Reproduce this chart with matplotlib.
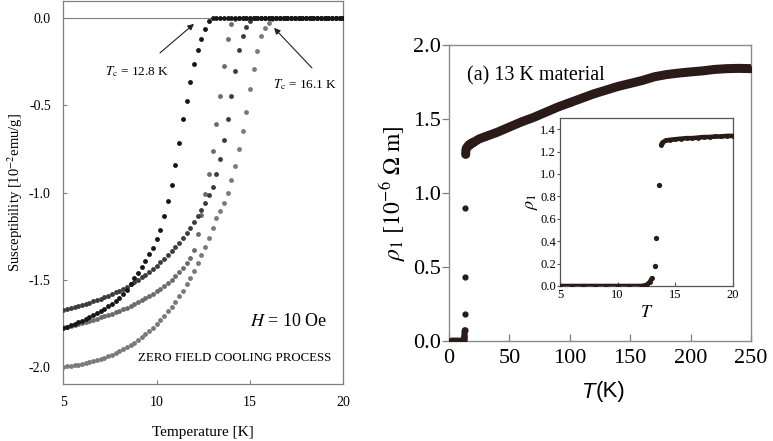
import numpy as np
import matplotlib
matplotlib.use("Agg")
import matplotlib.pyplot as plt

plt.rcParams['font.family'] = 'serif'
plt.rcParams['font.serif'] = ['Liberation Serif', 'DejaVu Serif']
plt.rcParams['mathtext.fontset'] = 'stix'

# ---------------- left panel data (susceptibility, 10^-2 emu/g) ----------------
temp_grid = np.round(np.arange(5.0, 20.001, 0.2), 1)

chi_s1 = [-1.773, -1.766, -1.758, -1.750, -1.741, -1.732, -1.722, -1.712, -1.701, -1.689,
          -1.677, -1.664, -1.650, -1.635, -1.618, -1.600, -1.580, -1.555, -1.522, -1.490,
          -1.459, -1.428, -1.392, -1.352, -1.315, -1.265, -1.215, -1.135, -1.050, -0.955,
          -0.840, -0.715, -0.580, -0.475, -0.365, -0.265, -0.185, -0.120, -0.065, -0.020,
          0, 0, 0, 0, 0, 0, 0, 0, 0, 0, 0, 0, 0, 0, 0, 0, 0, 0, 0, 0,
          0, 0, 0, 0, 0, 0, 0, 0, 0, 0, 0, 0, 0, 0, 0, 0]
chi_s2 = [-1.669, -1.664, -1.659, -1.654, -1.648, -1.642, -1.636, -1.629, -1.622, -1.614,
          -1.606, -1.598, -1.589, -1.580, -1.570, -1.560, -1.549, -1.537, -1.525, -1.512,
          -1.498, -1.484, -1.469, -1.453, -1.436, -1.418, -1.399, -1.379, -1.358, -1.336,
          -1.312, -1.287, -1.260, -1.232, -1.202, -1.170, -1.136, -1.100, -1.060, -1.015,
          -0.965, -0.895, -0.805, -0.700, -0.580, -0.445, -0.305, -0.185, -0.105, -0.050,
          -0.015, 0, 0, 0, 0, 0, 0, 0, 0, 0, 0, 0, 0, 0, 0, 0,
          0, 0, 0, 0, 0, 0, 0, 0, 0, 0]
chi_s3 = [-1.770, -1.766, -1.761, -1.756, -1.751, -1.745, -1.739, -1.733, -1.727, -1.721,
          -1.714, -1.707, -1.700, -1.692, -1.684, -1.676, -1.667, -1.658, -1.648, -1.638,
          -1.627, -1.616, -1.604, -1.591, -1.578, -1.564, -1.549, -1.533, -1.516, -1.498,
          -1.478, -1.456, -1.432, -1.405, -1.372, -1.330, -1.235, -1.125, -1.010, -0.895,
          -0.760, -0.605, -0.445, -0.275, -0.120, -0.035, -0.005,
          0, 0, 0, 0, 0, 0, 0, 0, 0, 0, 0, 0, 0, 0, 0, 0,
          0, 0, 0, 0, 0, 0, 0, 0, 0, 0, 0, 0, 0]
chi_s4 = [-1.996, -1.994, -1.991, -1.988, -1.984, -1.980, -1.975, -1.970, -1.965, -1.959,
          -1.952, -1.945, -1.937, -1.928, -1.918, -1.908, -1.897, -1.885, -1.872, -1.858,
          -1.843, -1.827, -1.810, -1.792, -1.772, -1.751, -1.729, -1.705, -1.680, -1.653,
          -1.624, -1.593, -1.560, -1.525, -1.487, -1.447, -1.404, -1.358, -1.309, -1.257,
          -1.202, -1.145, -1.105, -1.058, -1.000, -0.925, -0.845, -0.752, -0.645, -0.540,
          -0.405, -0.293, -0.190, -0.105, -0.057, -0.030, -0.005,
          0, 0, 0, 0, 0, 0, 0, 0, 0, 0, 0, 0, 0, 0, 0, 0, 0, 0, 0]
series_colors = ['#161616', '#3c3c3c', '#6c6c6c', '#7a7a7a']

# ---------------- right panel data (resistivity, 10^-6 Ohm m) ----------------
low_T = [2, 3, 4, 5, 6, 7, 8, 9, 10, 11, 12, 12.4, 12.6, 12.8, 13.0]
low_rho = [0, 0, 0, 0, 0, 0, 0, 0, 0, 0, 0, 0.005, 0.015, 0.035, 0.07]
jump_T = [13.24, 13.38, 13.6]
jump_rho = [0.18, 0.43, 0.90]
norm_T = [13.8, 13.9, 14.2, 14.6, 15, 15.5, 16, 16.5, 17, 17.5, 18, 18.5, 19, 19.5, 20,
          25, 30, 40, 50, 60, 70, 80, 90, 100, 110, 120, 130, 140, 150, 160, 170, 180,
          190, 200, 210, 220, 230, 240, 250]
norm_rho = [1.26, 1.28, 1.30, 1.305, 1.31, 1.315, 1.32, 1.32, 1.325, 1.33, 1.33, 1.335,
            1.335, 1.34, 1.34,
            1.365, 1.38, 1.41, 1.445, 1.48, 1.51, 1.545, 1.58, 1.61, 1.64, 1.67, 1.695,
            1.72, 1.74, 1.76, 1.785, 1.80, 1.81, 1.818, 1.825, 1.835, 1.84, 1.842, 1.84]
rho_color = '#2a1a18'

W, H = 773, 441
fig = plt.figure(figsize=(W / 100, H / 100), dpi=100)


def fx(px):
    return px / W


def fy(py):
    return 1 - py / H


# ================= left panel =================
axL = fig.add_axes([fx(63.3), fy(384), fx(343.3) - fx(63.3), fy(1) - fy(384)])
axL.axhline(0, color='#808080', lw=0.8, zorder=1)
for chi, col in zip([chi_s4, chi_s3, chi_s2, chi_s1], series_colors[::-1]):
    axL.plot(temp_grid, chi, 'o', color=col, ms=3.5, mec='none', zorder=3)
axL.set_xlim(5, 20)
axL.set_ylim(-2.095, 0.097)
axL.set_xticks([5, 10, 15, 20])
axL.set_yticks([0.0, -0.5, -1.0, -1.5, -2.0])
axL.set_yticklabels(['0.0', '-0.5', '-1.0', '-1.5', '-2.0'])
axL.tick_params(direction='in', length=3, width=0.8, color='#808080', labelsize=10,
                pad=9)
for s in axL.spines.values():
    s.set_color('#808080')
    s.set_linewidth(0.9)
axL.set_xlabel('Temperature [K]', fontsize=11, labelpad=12)
axL.set_ylabel('Susceptibility [10$^{-2}$emu/g]', fontsize=10.5, labelpad=3)

axL.annotate('', xy=(12.0, -0.034), xytext=(10.18, -0.20),
             arrowprops=dict(arrowstyle='-|>', color='#222222', lw=0.8,
                             mutation_scale=9, shrinkA=0, shrinkB=0))
axL.annotate('', xy=(16.29, -0.057), xytext=(18.32, -0.286),
             arrowprops=dict(arrowstyle='-|>', color='#222222', lw=0.8,
                             mutation_scale=9, shrinkA=0, shrinkB=0))
axL.text(7.23, -0.309, r'$T_{\rm c}$ = 12.8 K', fontsize=9.5, ha='left', va='center')
axL.text(16.22, -0.383, r'$T_{\rm c}$ = 16.1 K', fontsize=9.5, ha='left', va='center')
axL.text(15.0, -1.74, r'$H$ = 10 Oe', fontsize=13, ha='left', va='center')
axL.text(9.0, -1.946, 'ZERO FIELD COOLING PROCESS', fontsize=9.3, ha='left', va='center')

# ================= right panel =================
axR = fig.add_axes([fx(449), fy(340.7), fx(751) - fx(449), fy(45) - fy(340.7)])
axR.plot(low_T, low_rho, '-o', color=rho_color, lw=4.5, ms=4.5, mec='none',
         solid_capstyle='round', zorder=3)
axR.plot(jump_T, jump_rho, 'o', color=rho_color, ms=4.5, mec='none', zorder=3)
axR.plot(norm_T, norm_rho, '-o', color=rho_color, lw=6.5, ms=5, mec='none',
         solid_capstyle='round', solid_joinstyle='round', zorder=3)
axR.set_xlim(0, 250)
axR.set_ylim(0, 2.0)
axR.set_xticks([0, 50, 100, 150, 200, 250])
axR.set_yticks([0.0, 0.5, 1.0, 1.5, 2.0])
axR.set_yticklabels(['0.0', '0.5', '1.0', '1.5', '2.0'])
axR.tick_params(axis='x', direction='in', length=5, width=0.9, color='#808080',
                labelsize=16, pad=6)
axR.tick_params(axis='y', direction='out', length=5, width=0.9, color='#808080',
                labelsize=16, pad=0.5)
for s in axR.spines.values():
    s.set_color('#8a8a8a')
    s.set_linewidth(1.0)
axR.set_ylabel(r'$\rho_1\ [10^{-6}\ \Omega\ \mathrm{m}]$', fontsize=17, labelpad=4)
axR.text(0.058, 0.895, '(a) 13 K material', transform=axR.transAxes, fontsize=14.5,
         ha='left', va='center')
fig.text(fx(596), fy(392), 'T', ha='right', va='center', fontsize=16,
         family='Liberation Sans', style='italic')
fig.text(fx(596), fy(392), '(K)', ha='left', va='center', fontsize=16,
         family='Liberation Sans')

# ================= inset =================
axI = fig.add_axes([fx(560), fy(286), fx(732.5) - fx(560), fy(118) - fy(286)])
axI.plot(low_T, low_rho, '-o', color=rho_color, lw=3.3, ms=3.5, mec='none',
         solid_capstyle='round', zorder=3)
axI.plot(jump_T, jump_rho, 'o', color=rho_color, ms=3.8, mec='none', zorder=3)
axI.plot(norm_T, norm_rho, '-o', color=rho_color, lw=3.3, ms=3.5, mec='none',
         solid_capstyle='round', zorder=3)
axI.set_xlim(5, 20)
axI.set_ylim(0, 1.5)
axI.set_xticks([5, 10, 15, 20])
axI.set_yticks([0.0, 0.2, 0.4, 0.6, 0.8, 1.0, 1.2, 1.4])
axI.set_yticklabels(['0.0', '0.2', '0.4', '0.6', '0.8', '1.0', '1.2', '1.4'])
axI.tick_params(axis='x', direction='in', length=3, width=0.8, color='#555555',
                labelsize=9, pad=2)
axI.tick_params(axis='y', direction='out', length=2.5, width=0.8, color='#555555',
                labelsize=9, pad=0.5)
for s in axI.spines.values():
    s.set_color('#555555')
    s.set_linewidth(0.9)
axI.set_xlabel(r'$T$', fontsize=13, labelpad=2)
axI.set_ylabel(r'$\rho_1$', fontsize=13, labelpad=0)

fig.savefig('out.png', dpi=100)
